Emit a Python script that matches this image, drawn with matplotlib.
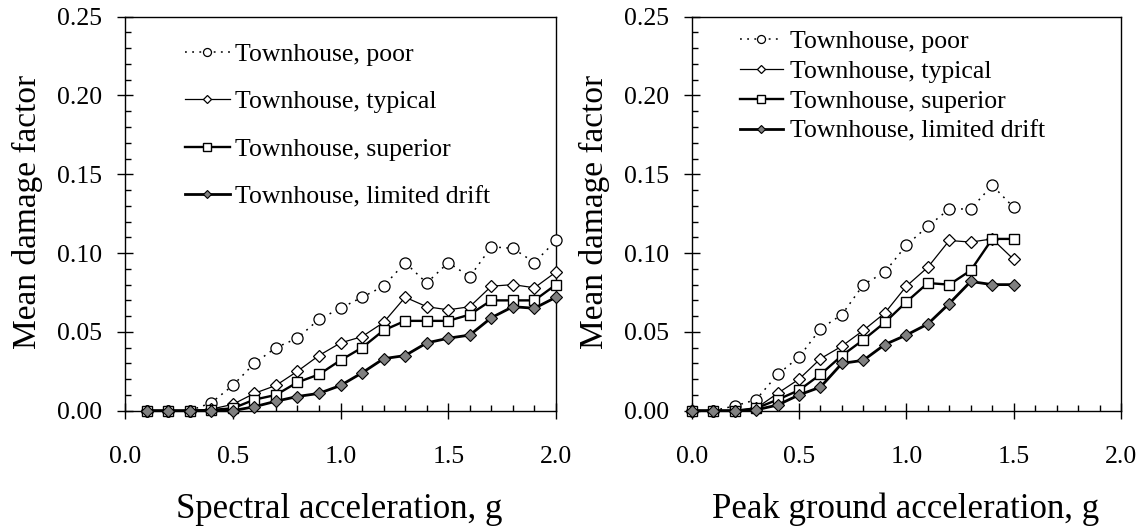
import matplotlib
matplotlib.use("Agg")
import matplotlib.pyplot as plt
from matplotlib.ticker import MultipleLocator, FormatStrFormatter

plt.rcParams['font.family'] = ['Liberation Serif', 'DejaVu Serif']

# ---- data ----
sa = [0.1, 0.2, 0.3, 0.4, 0.5, 0.6, 0.7, 0.8, 0.9, 1.0,
      1.1, 1.2, 1.3, 1.4, 1.5, 1.6, 1.7, 1.8, 1.9, 2.0]
poor_sa = [0, 0, 0, 0.005, 0.016, 0.030, 0.040, 0.046, 0.058, 0.065,
           0.072, 0.079, 0.094, 0.081, 0.094, 0.085, 0.104, 0.103, 0.094, 0.108]
typical_sa = [0, 0, 0, 0.001, 0.004, 0.011, 0.016, 0.025, 0.035, 0.043,
              0.047, 0.056, 0.072, 0.066, 0.064, 0.066, 0.079, 0.080, 0.078, 0.088]
superior_sa = [0, 0, 0, 0.0005, 0.0015, 0.007, 0.010, 0.018, 0.023, 0.032,
               0.040, 0.051, 0.057, 0.057, 0.057, 0.061, 0.070, 0.070, 0.070, 0.080]
limited_sa = [0, 0, 0, 0, 0, 0.0025, 0.006, 0.009, 0.011, 0.016,
              0.024, 0.033, 0.035, 0.043, 0.046, 0.048, 0.059, 0.066, 0.065, 0.072]

pga = [0.0, 0.1, 0.2, 0.3, 0.4, 0.5, 0.6, 0.7, 0.8, 0.9,
       1.0, 1.1, 1.2, 1.3, 1.4, 1.5]
poor_pga = [0, 0, 0.003, 0.007, 0.023, 0.034, 0.052, 0.061, 0.080, 0.088,
            0.105, 0.117, 0.128, 0.128, 0.143, 0.129]
typical_pga = [0, 0, 0, 0.0015, 0.011, 0.020, 0.033, 0.041, 0.051, 0.062,
               0.079, 0.091, 0.108, 0.107, 0.109, 0.096]
superior_pga = [0, 0, 0, 0.0015, 0.007, 0.013, 0.023, 0.035, 0.045, 0.056,
                0.069, 0.081, 0.080, 0.089, 0.109, 0.109]
limited_pga = [0, 0, 0, 0.0005, 0.0036, 0.010, 0.015, 0.030, 0.032, 0.042,
               0.048, 0.055, 0.068, 0.082, 0.080, 0.080]

labels = ["Townhouse, poor", "Townhouse, typical",
          "Townhouse, superior", "Townhouse, limited drift"]
xlabels = ["Spectral acceleration, g", "Peak ground acceleration, g"]
ylabel = "Mean damage factor"

styles = [
    dict(ls=(0, (1.2, 3.5)), lw=1.1, marker='o', ms=8, mfc='white', mec='black', mew=0.9, color='black'),
    dict(ls='-', lw=0.9, marker='D', ms=6.3, mfc='white', mec='black', mew=0.9, color='black'),
    dict(ls='-', lw=1.7, marker='s', ms=7.8, mfc='white', mec='black', mew=1.0, color='black'),
    dict(ls='-', lw=2.0, marker='D', ms=6.3, mfc='#808080', mec='black', mew=0.8, color='black'),
]

W, H = 1145, 531
fig = plt.figure(figsize=(W / 100, H / 100), dpi=100)
axL = fig.add_axes([125 / W, (H - 410.7) / H, 431 / W, 394 / H])
axR = fig.add_axes([691.7 / W, (H - 410.7) / H, 429.3 / W, 394 / H])

datasets = [
    (axL, sa, [poor_sa, typical_sa, superior_sa, limited_sa]),
    (axR, pga, [poor_pga, typical_pga, superior_pga, limited_pga]),
]

for ax, x, ys in datasets:
    for y, st, lab in zip(ys, styles, labels):
        ax.plot(x, y, label=lab, clip_on=False, zorder=3, **st)
    ax.set_xlim(0, 2.0)
    ax.set_ylim(0, 0.25)
    ax.xaxis.set_major_locator(MultipleLocator(0.5))
    ax.xaxis.set_minor_locator(MultipleLocator(0.1))
    ax.yaxis.set_major_locator(MultipleLocator(0.05))
    ax.yaxis.set_minor_locator(MultipleLocator(0.01))
    ax.xaxis.set_major_formatter(FormatStrFormatter('%.1f'))
    ax.yaxis.set_major_formatter(FormatStrFormatter('%.2f'))
    ax.tick_params(which='major', direction='inout', length=11, width=1.0,
                   labelsize=18.5, top=False, right=False)
    ax.tick_params(axis='y', which='major', pad=11)
    ax.tick_params(axis='x', which='major', pad=20)
    ax.tick_params(which='minor', direction='in', length=4.5, width=1.0,
                   top=False, right=False)
    for sp in ax.spines.values():
        sp.set_visible(True)
        sp.set_linewidth(1.0)
        sp.set_color('black')

legL = axL.legend(loc='upper left', bbox_to_anchor=(0.139, 0.933), frameon=False,
                  fontsize=18.5, handlelength=1.75, handletextpad=0.19,
                  labelspacing=0.95, borderpad=0, borderaxespad=0, markerscale=0.72)
legR = axR.legend(loc='upper left', bbox_to_anchor=(0.1125, 0.967), frameon=False,
                  fontsize=18.5, handlelength=1.67, handletextpad=0.27,
                  labelspacing=0.276, borderpad=0, borderaxespad=0, markerscale=0.72)

fig.text(27.5 / W, 1 - 212 / H, ylabel, rotation=90, ha='center', va='center', fontsize=24)
fig.text(594 / W, 1 - 212 / H, ylabel, rotation=90, ha='center', va='center', fontsize=24)
fig.text(339 / W, 1 - 518 / H, xlabels[0], ha='center', va='baseline', fontsize=25)
fig.text(906 / W, 1 - 518 / H, xlabels[1], ha='center', va='baseline', fontsize=25)

fig.savefig("out.png", dpi=100)
